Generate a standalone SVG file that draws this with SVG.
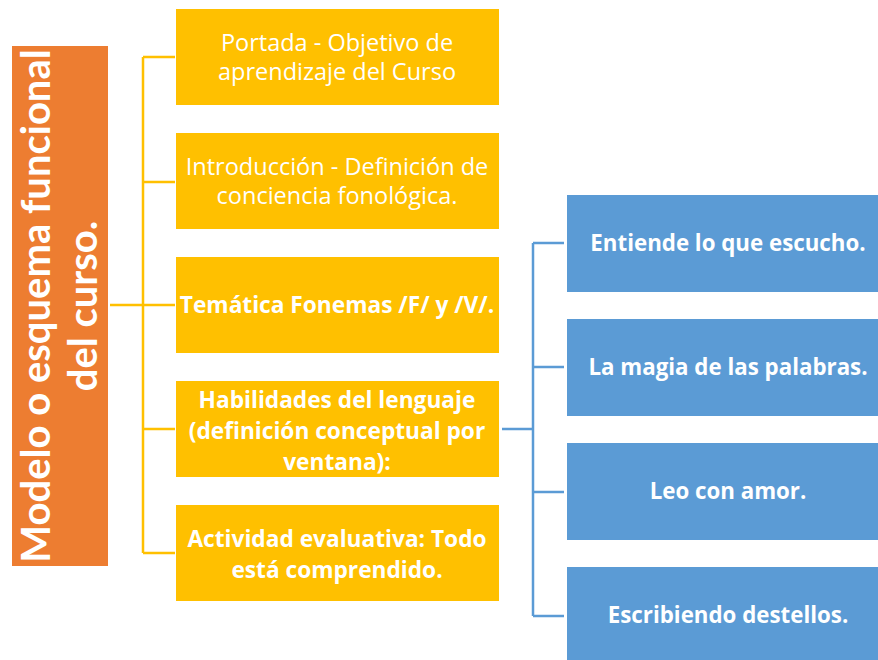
<svg xmlns="http://www.w3.org/2000/svg" width="878" height="660" viewBox="0 0 878 660">
<style>
.y{fill:#FFC000}
.b{fill:#5B9BD5}
.t{font-family:"Open Sans","Liberation Sans",sans-serif;fill:#fff;text-anchor:middle;font-size:23.5px}
.bd{font-weight:bold;font-size:22.7px}
.bt{font-size:22.3px}
.rt{font-family:Lato,"Open Sans",sans-serif;font-size:40px}
.ly{stroke:#FFC000;stroke-width:2.5;fill:none}
.lb{stroke:#5B9BD5;stroke-width:2.5;fill:none}
</style>
<rect width="878" height="660" fill="#fff"/>
<g id="connectors">
<path class="ly" d="M110 305H143M143 57V553M143 57H175M143 182H175M143 305H175M143 429H175M143 553H175"/>
<path class="lb" d="M502 429H533M533 243V616M533 243H564M533 367H564M533 492H564M533 616H564"/>
</g>
<g id="root">
<rect x="12" y="46" width="96" height="520" fill="#ED7D31"/>
<text class="t bd rt" transform="translate(50 306) rotate(-90)" x="0" y="0">Modelo o esquema funcional</text>
<text class="t bd rt" transform="translate(97 306) rotate(-90)" x="0" y="0">del curso.</text>
</g>
<g id="n1"><rect class="y" x="176" y="9" width="323" height="96"/>
<text class="t" x="337" y="51">Portada - Objetivo de</text><text class="t" x="337" y="80">aprendizaje del Curso</text></g>
<g id="n2"><rect class="y" x="176" y="133" width="323" height="96"/>
<text class="t" x="337" y="175">Introducción - Definición de</text><text class="t" x="337" y="204">conciencia fonológica.</text></g>
<g id="n3"><rect class="y" x="176" y="257" width="323" height="96"/>
<text class="t bd" x="337" y="313">Temática Fonemas /F/ y /V/.</text></g>
<g id="n4"><rect class="y" x="176" y="381" width="323" height="96"/>
<text class="t bd" x="337" y="408">Habilidades del lenguaje</text><text class="t bd" x="337" y="439">(definición conceptual por</text><text class="t bd" x="337" y="470">ventana):</text></g>
<g id="n5"><rect class="y" x="176" y="505" width="323" height="96"/>
<text class="t bd" x="337" y="547">Actividad evaluativa: Todo</text><text class="t bd" x="337" y="578">está comprendido.</text></g>
<g id="b1"><rect class="b" x="567" y="195" width="311" height="97"/>
<text class="t bd bt" x="728" y="251">Entiende lo que escucho.</text></g>
<g id="b2"><rect class="b" x="567" y="319" width="311" height="97"/>
<text class="t bd bt" x="728" y="375">La magia de las palabras.</text></g>
<g id="b3"><rect class="b" x="567" y="443" width="311" height="97"/>
<text class="t bd bt" x="728" y="499">Leo con amor.</text></g>
<g id="b4"><rect class="b" x="567" y="567" width="311" height="97"/>
<text class="t bd bt" x="728" y="623">Escribiendo destellos.</text></g>
</svg>
